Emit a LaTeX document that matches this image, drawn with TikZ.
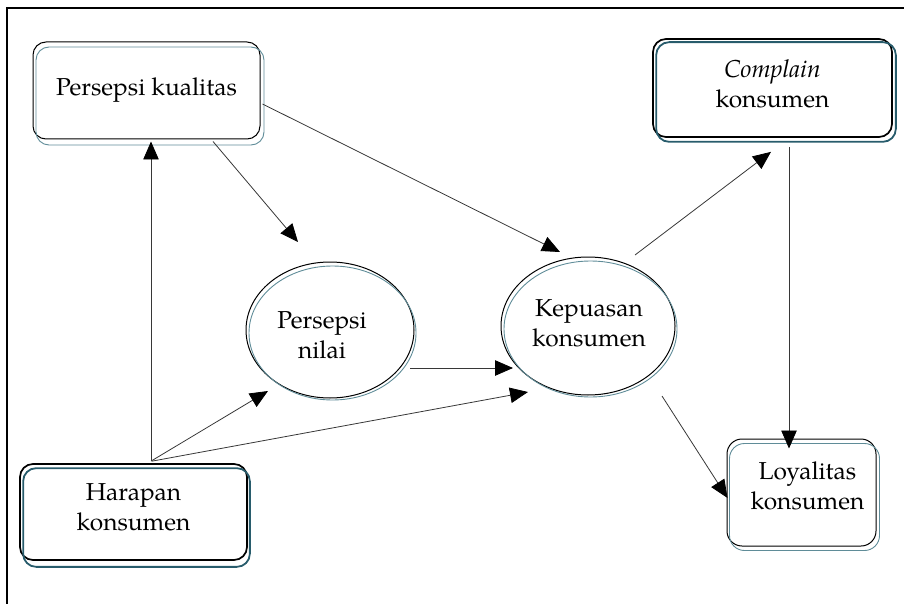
\documentclass[tikz,border=0pt]{standalone}
\usepackage{fontspec}
\setmainfont{TeX Gyre Pagella}
\usetikzlibrary{arrows.meta,calc,shapes.geometric}
\definecolor{edge}{RGB}{40,92,108}
\definecolor{edgelight}{RGB}{95,140,152}
\definecolor{wire}{RGB}{55,55,55}
\tikzset{
  box/.style={draw=black, rounded corners=13, inner sep=0, line width=1.0},
  boxthick/.style={box, line width=1.7},
  oval/.style={draw=black, ellipse, inner sep=0, line width=1.0},
  lbl/.style={font=\fontsize{24.5}{30}\selectfont, align=center, inner sep=0},
  inner/.style={draw=edgelight, rounded corners=13, line width=0.9},
  innerthick/.style={draw=edge, rounded corners=13, line width=1.8},
  arr/.style={draw=wire, line width=0.8, -{Triangle[length=18, width=15.5, color=black, fill=black]}}
}
\begin{document}
\begin{tikzpicture}[x=1pt,y=-1pt]
\useasboundingbox (0,0) rectangle (904,604);
% outer frame
\draw[line width=1.4] (7,604) -- (7,8) -- (904,8);

% boxes and ovals
\node (pk) [box, minimum width=227, minimum height=97,
  label={[lbl, yshift=0]center:Persepsi kualitas}] at (146.5,90.5) {};
\draw[inner] ($(pk.north west)+(3.5,5.5)$) rectangle ($(pk.south east)+(3.5,5.5)$);

\node (ck) [boxthick, minimum width=239, minimum height=98,
  label={[lbl, yshift=4]center:\textit{Complain}\\konsumen}] at (772.5,88) {};
\draw[innerthick] ($(ck.north west)+(4,4)$) rectangle ($(ck.south east)+(3,4)$);

\node (hk) [boxthick, minimum width=227, minimum height=96,
  label={[lbl, yshift=5]center:Harapan\\konsumen}] at (133.5,512) {};
\draw[innerthick] ($(hk.north west)+(4,5)$) rectangle ($(hk.south east)+(2,6)$);

\node (lk) [box, rounded corners=15, minimum width=149, minimum height=107,
  label={[lbl, xshift=6, yshift=7]center:Loyalitas\\konsumen}] at (801.5,492.5) {};
\draw[inner, rounded corners=15] ($(lk.north west)+(3,5)$) rectangle ($(lk.south east)+(3,4)$);

\node (pn) [oval, minimum width=168, minimum height=136,
  label={[lbl, xshift=-8, yshift=-5]center:Persepsi\\nilai}] at (330,330) {};
\draw[draw=edgelight, line width=0.9] ($(pn.center)+(2.5,3)$) ellipse [x radius=83.5, y radius=67];

\node (kk) [oval, minimum width=174, minimum height=138,
  label={[lbl, xshift=1, yshift=3]center:Kepuasan\\konsumen}] at (588,326) {};
\draw[draw=edgelight, line width=0.9] ($(kk.center)+(2.5,3)$) ellipse [x radius=86.5, y radius=68];

% connectors
\draw[arr] ($(hk.north)+(17.5,-2)$) -- ($(pk.south)+(4.5,2)$);
\draw[arr] ($(hk.north)+(17.5,-2)$) -- ($(pn.center)+(-62,61)$);
\draw[arr] ($(hk.north)+(18.5,-2)$) -- ($(kk.center)+(-60,66)$);
\draw[arr] ($(pk.south)+(66.5,2)$) -- ($(pn.center)+(-32,-88)$);
\draw[arr] ($(pk.east)+(2,13.5)$) -- ($(kk.center)+(-28,-74)$);
\draw[arr] ($(pn.center)+(80,38)$) -- ($(kk.center)+(-75,42)$);
\draw[arr] ($(kk.center)+(47,-71)$) -- ($(ck.south)+(-1.5,14)$);
\draw[arr] ($(ck.south)+(16.5,9)$) -- ($(lk.north)+(-12.5,10)$);
\draw[arr] ($(kk.center)+(74,70)$) -- ($(lk.west)+(1,5.5)$);
\end{tikzpicture}
\end{document}
